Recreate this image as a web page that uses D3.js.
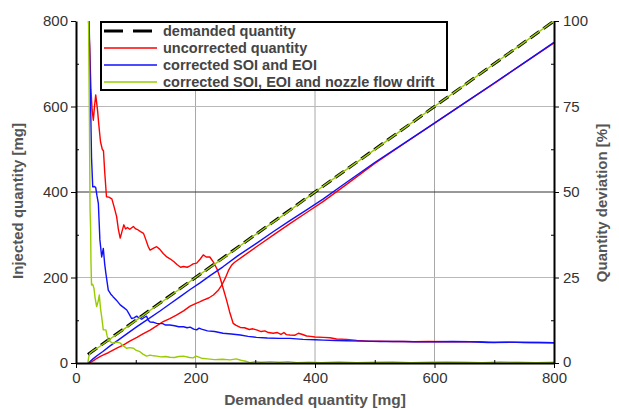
<!DOCTYPE html>
<html>
<head>
<meta charset="utf-8">
<script src="https://cdn.jsdelivr.net/npm/d3@7"></script>
<style>
	body { margin: 0; background: #fff; }
	svg { display: block; font-family: "Liberation Sans", Arial, sans-serif; }
</style>
</head>
<body>
<svg id="plot" width="619" height="409"></svg>
<script>
// ticks
const X_TICKS = [0, 200, 400, 600, 800];
const X_MINOR = [100, 300, 500, 700];
const LEFT_TICKS = [0, 200, 400, 600, 800];
const LEFT_MINOR = [100, 300, 500, 700];
const RIGHT_TICKS = [0, 25, 50, 75, 100];
const RIGHT_MINOR = [12.5, 37.5, 62.5, 87.5];

const LEGEND = ['demanded quantity', 'uncorrected quantity', 'corrected SOI and EOI',
	'corrected SOI, EOI and nozzle flow drift'];

// injected quantity [mg] vs demanded quantity [mg]
const demandedQty = [[20, 20], [800, 800]];
const uncorrectedQty = [[20, 0], [24, 1], [30, 6], [35, 11], [40, 15], [46, 19], [54, 24], [62, 30],
	[70, 36], [79, 42], [90, 51], [102, 60], [112, 68], [124, 77], [135, 87], [146, 97],
	[157, 104], [168, 112], [180, 122], [191, 133], [200, 139], [207, 143], [213, 147],
	[222, 152], [230, 159], [238, 170], [244, 182], [250, 199], [255, 216], [260, 228],
	[265, 235], [280, 250], [302, 272], [330, 299], [358, 326], [386, 352], [414, 378],
	[450, 415], [500, 467], [550, 514], [600, 561], [650, 608], [700, 654], [750, 702], [800, 749]];
const correctedQty = [[20, 0], [23, 3], [28, 9], [35, 17], [45, 27], [57, 40], [70, 53], [85, 68],
	[102, 85], [120, 102], [140, 121], [157, 138], [175, 156], [191, 172], [207, 187],
	[225, 205], [246, 225], [270, 250], [302, 280], [330, 307], [358, 333], [386, 358],
	[414, 384], [450, 420], [500, 469], [550, 515], [600, 561], [650, 608], [700, 655],
	[750, 702], [800, 750]];
const driftCorrectedQty = [[20, 1], [21, 12], [23, 22], [27, 27], [35, 34], [50, 49], [75, 74],
	[100, 99], [150, 149], [200, 200], [250, 249], [300, 300], [350, 349], [400, 400],
	[450, 450], [500, 499], [550, 550], [600, 600], [650, 650], [700, 700], [750, 750], [800, 800]];

// quantity deviation [%] vs demanded quantity [mg]
const uncorrectedDev = [[21, 100], [23, 92], [25, 80], [27, 74], [29, 71], [31, 75], [33, 78.4],
	[36, 74], [38, 70], [41, 64.7], [44, 62.5], [46, 62], [48, 56], [51, 48.6], [55, 48.5],
	[60, 48], [64, 45.5], [68, 42.8], [71, 39], [74, 36.5], [77, 38.5], [80, 40.4], [83, 39.2],
	[86, 39.6], [90, 39.1], [96, 39.9], [100, 39.2], [104, 38.9], [108, 38.4], [113, 37.9],
	[117, 36], [121, 34], [124, 33], [130, 33.6], [135, 34], [140, 33.3], [146, 32], [152, 31],
	[158, 30.4], [164, 29.6], [169, 28.8], [175, 28], [180, 28.2], [186, 28], [190, 28.3],
	[196, 29], [202, 29.2], [208, 30.4], [213, 31.6], [218, 31], [224, 31], [230, 29.5],
	[236, 27.5], [241, 25], [246, 22], [252, 18.4], [257, 15], [263, 11.6], [268, 11],
	[275, 10.4], [282, 10.3], [290, 9.8], [296, 10], [302, 9.7], [310, 9.2], [316, 9.4],
	[322, 8.9], [330, 8.7], [337, 8.9], [343, 8.4], [348, 8.9], [352, 8.3], [358, 8.2],
	[366, 8.1], [372, 8.7], [378, 8.4], [386, 7.9], [393, 7.8], [400, 7.6], [414, 7.5],
	[425, 7.4], [436, 7.0], [453, 6.9], [470, 6.6], [490, 6.4], [509, 6.4], [530, 6.3],
	[550, 6.3], [564, 6.2], [590, 6.3], [620, 6.2], [650, 6.2], [676, 6.2], [700, 6.0],
	[730, 6.1], [760, 6.0], [800, 5.9]];
const correctedDev = [[22, 100], [24, 80], [26, 60], [28, 51.5], [31, 51.6], [33, 51.3],
	[35, 49], [37.4, 46.7], [40, 36], [43, 31], [45.7, 33.5], [48, 29], [50, 26.2], [54, 21.3],
	[58, 20.2], [62, 19.4], [68, 18.3], [74, 17], [80, 16.2], [85, 15.5], [89, 14.3], [93, 13],
	[97, 13.2], [101.6, 13.7], [106, 13.1], [110, 12.8], [114, 13.3], [118, 13.7], [121, 12.5],
	[124, 12], [130, 11.9], [135, 11.6], [145, 11.5], [150, 11.1], [157, 11.1], [165, 10.9],
	[172, 10.6], [180, 10.6], [186, 10.3], [191, 10.5], [197, 9.9], [202, 9.7], [206, 10.2],
	[210, 9.9], [220, 9.4], [232, 9.2], [246, 8.7], [260, 8.5], [275, 8.2], [288, 7.8],
	[302, 7.5], [320, 7.3], [340, 7.2], [358, 7.2], [380, 6.9], [400, 6.8], [414, 6.7],
	[435, 6.6], [453, 6.5], [480, 6.4], [510, 6.3], [540, 6.3], [570, 6.2], [600, 6.2],
	[630, 6.3], [660, 6.2], [690, 6.0], [720, 6.1], [750, 6.0], [775, 6.0], [800, 5.9]];
const driftCorrectedDev = [[21, 100], [22.5, 70], [23.5, 45], [24.5, 39], [25, 30], [26, 22.8],
	[28, 23], [30, 21.9], [32, 19], [34.6, 16.5], [37, 18], [39, 19.9], [41, 16], [43, 13.5],
	[45.7, 9.7], [50, 9.7], [52, 8], [54, 6.7], [58, 6.2], [62, 5.75], [68, 6.1], [73.6, 5.9],
	[79, 5], [85, 4.3], [90, 4.5], [96, 4.3], [101, 3.7], [107, 3.3], [112, 2.6], [118, 2],
	[124, 2.3], [130, 2.1], [135, 2], [142, 1.8], [150, 1.9], [157, 1.7], [165, 1.6], [172, 1.9],
	[180, 2], [190, 1.6], [196, 1.5], [201, 2], [210, 1.4], [220, 1.2], [232, 1.0], [245, 1.1],
	[258, 0.9], [268, 1.2], [276, 0.8], [284, 0.5], [291, 0.1], [300, 0.4], [310, 0.2],
	[325, 0.4], [340, 0.2], [355, 0.4], [370, 0.1], [390, 0.2], [410, 0.1], [440, 0.3],
	[470, 0.1], [500, 0.2], [530, 0.3], [560, 0.1], [590, 0.2], [620, 0.3], [650, 0.2],
	[680, 0.1], [710, 0.3], [740, 0.2], [770, 0.1], [800, 0.2]];

const COLORS = ['#000000', '#ff0000', '#1010ff', '#99cc00'];

function whenDocumentLoaded(action) {
	if (document.readyState === "loading") {
		document.addEventListener("DOMContentLoaded", action);
	} else {
		action();
	}
}

whenDocumentLoaded(() => {
	const svg = d3.select('#plot');
	const MARGIN = { top: 21, right: 65, bottom: 46, left: 76 };
	const W = 619 - MARGIN.left - MARGIN.right;
	const H = 409 - MARGIN.top - MARGIN.bottom;

	const x = d3.scaleLinear().domain([0, 800]).range([0, W]);
	const yL = d3.scaleLinear().domain([0, 800]).range([H, 0]);
	const yR = d3.scaleLinear().domain([0, 100]).range([H, 0]);

	const g = svg.append('g').attr('transform', `translate(${MARGIN.left},${MARGIN.top})`);

	g.append('clipPath').attr('id', 'clip')
		.append('rect').attr('width', W).attr('height', H);

	/* grid */
	g.selectAll('.vgrid').data([200, 400, 600]).enter().append('line')
		.attr('x1', d => x(d)).attr('x2', d => x(d))
		.attr('y1', 0).attr('y2', H)
		.style('stroke', '#a8a8a8').style('stroke-width', 1);
	g.selectAll('.hgrid').data([200, 400, 600]).enter().append('line')
		.attr('x1', 0).attr('x2', W)
		.attr('y1', d => yL(d)).attr('y2', d => yL(d))
		.style('stroke', d => d === 400 ? '#333' : '#b8b8b8').style('stroke-width', 1);

	/* lines */
	const lineL = d3.line().x(d => x(d[0])).y(d => yL(d[1]));
	const lineR = d3.line().x(d => x(d[0])).y(d => yR(d[1]));
	const plotArea = g.append('g').attr('clip-path', 'url(#clip)');

	plotArea.append('path').datum(demandedQty).attr('d', lineL)
		.style('fill', 'none').style('stroke', COLORS[0]).style('stroke-width', 3)
		.style('stroke-dasharray', '11,5');

	const series = [
		[uncorrectedQty, lineL, 1], [uncorrectedDev, lineR, 1],
		[correctedQty, lineL, 2], [correctedDev, lineR, 2],
		[driftCorrectedQty, lineL, 3], [driftCorrectedDev, lineR, 3]
	];
	series.forEach(s => {
		plotArea.append('path').datum(s[0]).attr('d', s[1])
			.style('fill', 'none').style('stroke', COLORS[s[2]]).style('stroke-width', 1.4)
			.style('stroke-linejoin', 'round');
	});

	/* axes */
	function styleAxis(sel) {
		sel.select('.domain').style('stroke', '#000').style('stroke-width', 2);
		sel.selectAll('.tick line').style('stroke', '#000').style('stroke-width', 1);
		sel.selectAll('.tick text').style('font-size', '15px').style('fill', '#333');
	}
	const ax = g.append('g').attr('transform', `translate(0,${H})`)
		.call(d3.axisBottom(x).tickValues(X_TICKS).tickSize(5).tickPadding(4).tickSizeOuter(0));
	styleAxis(ax);
	g.append('g').attr('transform', `translate(0,${H})`)
		.call(d3.axisBottom(x).tickValues(X_MINOR).tickSize(-3).tickFormat('').tickSizeOuter(0))
		.call(s => { s.select('.domain').remove(); s.selectAll('line').style('stroke', '#000'); });

	const al = g.append('g')
		.call(d3.axisLeft(yL).tickValues(LEFT_TICKS).tickSize(5).tickPadding(3).tickSizeOuter(0));
	styleAxis(al);
	g.append('g')
		.call(d3.axisLeft(yL).tickValues(LEFT_MINOR).tickSize(-3).tickFormat('').tickSizeOuter(0))
		.call(s => { s.select('.domain').remove(); s.selectAll('line').style('stroke', '#000'); });

	const ar = g.append('g').attr('transform', `translate(${W},0)`)
		.call(d3.axisRight(yR).tickValues(RIGHT_TICKS).tickSize(5).tickPadding(4).tickSizeOuter(0));
	styleAxis(ar);
	ar.selectAll('.tick text').filter(d => d === 0).attr('dy', '0.2em');
	g.append('g').attr('transform', `translate(${W},0)`)
		.call(d3.axisRight(yR).tickValues(RIGHT_MINOR).tickSize(-3).tickFormat('').tickSizeOuter(0))
		.call(s => { s.select('.domain').remove(); s.selectAll('line').style('stroke', '#000'); });

	/* axis titles */
	svg.append('text')
		.attr('x', MARGIN.left + W / 2).attr('y', 405)
		.attr('text-anchor', 'middle')
		.style('font-size', '15.5px').style('font-weight', 'bold').style('fill', '#555')
		.text('Demanded quantity [mg]');
	svg.append('text')
		.attr('transform', 'translate(23,201) rotate(-90)')
		.attr('text-anchor', 'middle')
		.style('font-size', '15px').style('font-weight', 'bold').style('fill', '#555')
		.text('Injected quantity [mg]');
	svg.append('text')
		.attr('transform', 'translate(607,203) rotate(-90)')
		.attr('text-anchor', 'middle')
		.style('font-size', '15px').style('font-weight', 'bold').style('fill', '#555')
		.text('Quantity deviation [%]');

	/* legend */
	const lg = svg.append('g').attr('transform', 'translate(101,22)');
	lg.append('rect').attr('width', 346).attr('height', 68)
		.style('fill', '#fff').style('stroke', '#000').style('stroke-width', 2);
	LEGEND.forEach((name, i) => {
		const yy = 9 + i * 17;
		lg.append('line').attr('x1', 3).attr('x2', 56).attr('y1', yy).attr('y2', yy)
			.style('stroke', COLORS[i]).style('stroke-width', i === 0 ? 3 : 1.4)
			.style('stroke-dasharray', i === 0 ? '19,10' : null);
		lg.append('text').attr('x', 62).attr('y', yy + 5)
			.style('font-size', '14.5px').style('font-weight', 'bold').style('fill', '#444')
			.text(name);
	});
});
</script>
</body>
</html>
